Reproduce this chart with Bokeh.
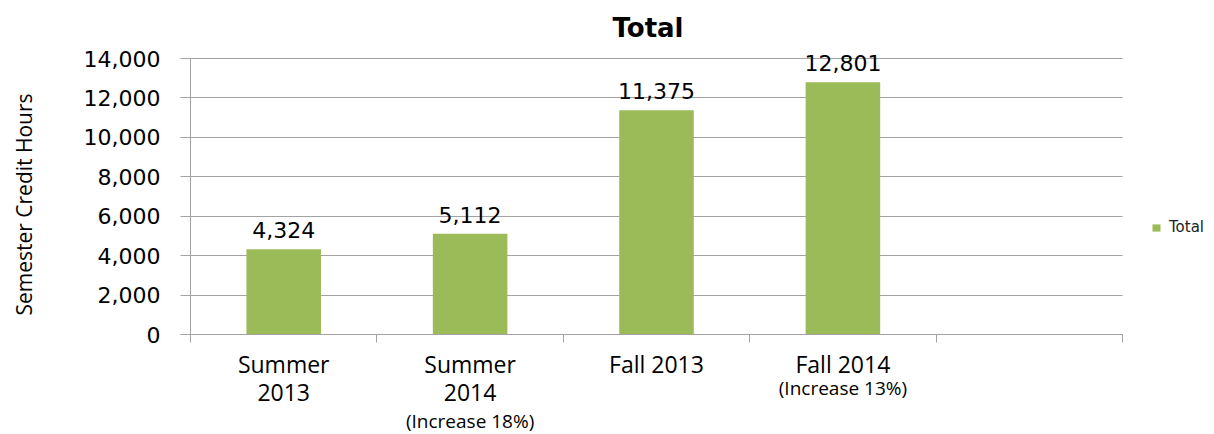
import math
from bokeh.plotting import figure
from bokeh.models import (Range1d, FixedTicker, NumeralTickFormatter,
                          ColumnDataSource, LabelSet, Label, Legend, LegendItem)
from bokeh.core.properties import value
from bokeh.embed import file_html
from bokeh.resources import INLINE

# ---- data ----
categories = ["Summer 2013", "Summer 2014", "Fall 2013", "Fall 2014", ""]
tick_labels = ["Summer\n2013", "Summer\n2014", "Fall 2013", "Fall 2014", ""]
totals = [4324, 5112, 11375, 12801]
value_labels = ["4,324", "5,112", "11,375", "12,801"]
notes = ["", "(Increase 18%)", "", "(Increase 13%)"]
series_name = "Total"
chart_title = "Total"
y_axis_title = "Semester Credit Hours"
y_ticks = [0, 2000, 4000, 6000, 8000, 10000, 12000, 14000]

# ---- styles / layout (pixels) ----
GREEN = "#9BBB59"
GRID = "#A3A3A3"
W, H = 1212, 432
LEFT = 190            # pixel column of the value axis
SLOTS_RIGHT = 1122    # right end of the category slots
TOP14K = 58           # pixel row of the top tick
ZERO = 334            # pixel row of the baseline
note_offsets = [0, -73, 0, -40]

n_slots = len(categories)
slot_px = (SLOTS_RIGHT - LEFT) / n_slots
y_max = y_ticks[-1]
upp = y_max / (ZERO - TOP14K)          # data units per pixel


def px_x(px):
    return (px - LEFT) / slot_px


def px_y(py):
    return (ZERO - py) * upp


xs = [i + 0.5 for i in range(len(totals))]
src = ColumnDataSource(dict(x=xs, top=totals, label=value_labels))

p = figure(width=W, height=H, x_range=Range1d(px_x(0), px_x(W)), y_range=Range1d(px_y(H), px_y(0)),
           output_backend="svg", toolbar_location=None,
           min_border_left=0, min_border_right=0, min_border_top=0, min_border_bottom=0)
p.outline_line_color = None
p.background_fill_color = "white"

r = p.vbar(x="x", top="top", width=0.4, source=src, fill_color=GREEN, line_color=None)

# value labels
p.add_layout(LabelSet(x="x", y="top", text="label", source=src, text_align="center",
                      text_baseline="alphabetic", y_offset=11,
                      text_font=value("DejaVu Sans"), text_font_size="22px", text_color="black"))

# notes under categories
for i, note in enumerate(notes):
    if note:
        p.add_layout(Label(x=xs[i], y=0, text=note, text_align="center", text_baseline="top",
                           y_offset=note_offsets[i], text_font="Open Sans",
                           text_font_size="19px", text_color="black"))

# title
p.add_layout(Label(x=px_x(647.5), y=px_y(27), text=chart_title,
                   text_align="center", text_baseline="alphabetic", text_font="DejaVu Sans",
                   text_font_size="26px", text_font_style="bold", text_color="black"))

# value-axis title (rotated)
p.add_layout(Label(x=px_x(23), y=px_y(204), text=y_axis_title, angle=math.pi / 2,
                   text_align="center", text_baseline="middle", text_font="Open Sans",
                   text_font_size="21px", text_color="black"))

# y axis drawn at x = 0
yax = p.yaxis[0]
yax.fixed_location = 0
yax.ticker = FixedTicker(ticks=y_ticks)
yax.bounds = (0, y_max)
yax.formatter = NumeralTickFormatter(format="0,0")
yax.major_label_text_font = "DejaVu Sans"
yax.major_label_text_font_size = "22px"
yax.major_label_text_color = "black"
yax.major_tick_out = 10
yax.major_tick_in = 0
yax.minor_tick_line_color = None
yax.major_tick_line_color = GRID
yax.axis_line_color = GRID
yax.major_label_standoff = 20

# x axis drawn at y = 0
xax = p.xaxis[0]
xax.fixed_location = 0
xax.bounds = (0, n_slots)
xax.ticker = FixedTicker(ticks=[i + 0.5 for i in range(n_slots)],
                         minor_ticks=list(range(n_slots + 1)))
xax.major_label_overrides = {i + 0.5: lab for i, lab in enumerate(tick_labels)}
xax.major_label_text_font = "Open Sans"
xax.major_label_text_font_size = "23px"
xax.major_label_text_line_height = 0.9
xax.major_label_text_color = "black"
xax.major_tick_line_color = None
xax.major_tick_out = 8
xax.major_tick_in = 0
xax.minor_tick_out = 8
xax.minor_tick_in = 0
xax.minor_tick_line_color = GRID
xax.axis_line_color = GRID
xax.major_label_standoff = 5

p.xgrid.visible = False
p.ygrid.grid_line_color = GRID
p.ygrid.cross_bounds = (0, n_slots)

legend = Legend(items=[LegendItem(label=series_name, renderers=[r])],
                location=(1151, 196), margin=0, padding=0, glyph_width=10, glyph_height=9,
                label_standoff=8, label_height=18, label_text_font="DejaVu Sans",
                label_text_font_size="15px", label_text_color="#222222",
                border_line_color=None, background_fill_alpha=0)
p.add_layout(legend, "center")

open("out.html", "w").write(file_html(p, INLINE))
